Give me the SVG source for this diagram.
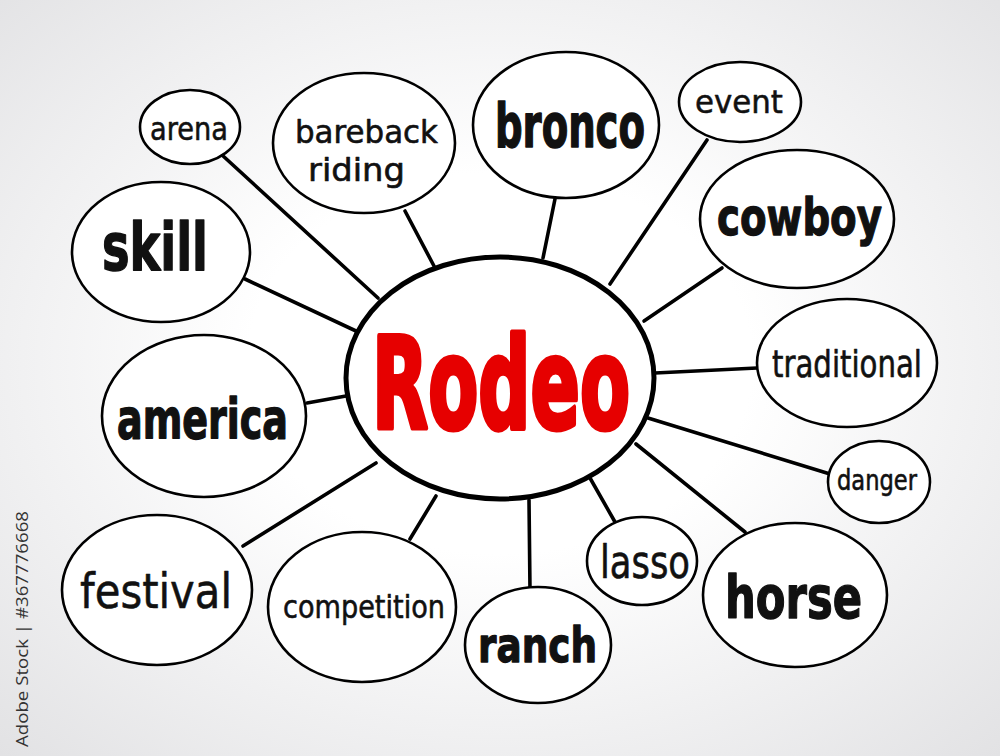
<svg xmlns="http://www.w3.org/2000/svg" width="1000" height="756" viewBox="0 0 1000 756">
<defs>
<radialGradient id="bg" cx="50%" cy="48%" r="72%">
<stop offset="0.35" stop-color="#ffffff"/>
<stop offset="1" stop-color="#e2e2e4"/>
</radialGradient>
<style>
.n{fill:#ffffff;stroke:#000;stroke-width:2.6}
.c{stroke:#000;stroke-width:3.6;stroke-linecap:round;fill:none}
.t{font-family:"DejaVu Sans",sans-serif;fill:#111;text-anchor:start}
.b{font-weight:700;stroke:#111;stroke-width:1;stroke-linejoin:round}
.s{font-weight:400;stroke:#111;stroke-width:0.5;stroke-linejoin:round}
</style>
</defs>
<rect width="1000" height="756" fill="url(#bg)"/>
<g id="connectors">
<line class="c" x1="222" y1="155" x2="378" y2="298"/>
<line class="c" x1="405" y1="211" x2="434" y2="266"/>
<line class="c" x1="245" y1="279" x2="356" y2="331"/>
<line class="c" x1="555" y1="199" x2="543" y2="258"/>
<line class="c" x1="707" y1="140" x2="610" y2="284"/>
<line class="c" x1="722" y1="268" x2="644" y2="321"/>
<line class="c" x1="655" y1="373" x2="757" y2="368"/>
<line class="c" x1="648" y1="418" x2="830" y2="474"/>
<line class="c" x1="636" y1="444" x2="745" y2="532"/>
<line class="c" x1="590" y1="478" x2="615" y2="522"/>
<line class="c" x1="529" y1="500" x2="530" y2="590"/>
<line class="c" x1="436" y1="496" x2="410" y2="539"/>
<line class="c" x1="243" y1="546" x2="376" y2="463"/>
<line class="c" x1="307" y1="403" x2="346" y2="396"/>
</g>
<g id="center">
<ellipse cx="500" cy="378" rx="154" ry="121" fill="#fff" stroke="#000" stroke-width="5"/>
<text transform="translate(372,428) scale(1,1.73)" font-family="DejaVu Sans,sans-serif" font-weight="700" font-size="73" fill="#e60000" stroke="#e60000" stroke-width="3" stroke-linejoin="round" textLength="258" lengthAdjust="spacingAndGlyphs">Rodeo</text>
</g>
<g id="arena"><ellipse class="n" cx="190" cy="127" rx="50" ry="37"/><text class="t s" transform="translate(150,140) scale(1,1.2)" font-size="27" textLength="78" lengthAdjust="spacingAndGlyphs">arena</text></g>
<g id="bareback"><ellipse class="n" cx="364" cy="143" rx="91" ry="70"/><text class="t s" transform="translate(295,143) scale(1,1.2)" font-size="26" textLength="143" lengthAdjust="spacingAndGlyphs">bareback</text><text class="t s" transform="translate(308,181) scale(1,1.2)" font-size="26" textLength="97" lengthAdjust="spacingAndGlyphs">riding</text></g>
<g id="skill"><ellipse class="n" cx="161" cy="252" rx="89" ry="70"/><text class="t b" transform="translate(102,270) scale(1,1.42)" font-size="46" textLength="106" lengthAdjust="spacingAndGlyphs">skill</text></g>
<g id="bronco"><ellipse class="n" cx="566" cy="125" rx="93" ry="73"/><text class="t b" transform="translate(495,147) scale(1,1.55)" font-size="38.5" textLength="150" lengthAdjust="spacingAndGlyphs">bronco</text></g>
<g id="event"><ellipse class="n" cx="740" cy="102" rx="61" ry="40"/><text class="t s" transform="translate(695,113) scale(1,1.05)" font-size="30.5" textLength="88" lengthAdjust="spacingAndGlyphs">event</text></g>
<g id="cowboy"><ellipse class="n" cx="797" cy="219" rx="97" ry="69"/><text class="t b" transform="translate(717,235) scale(1,1.32)" font-size="38.5" textLength="165" lengthAdjust="spacingAndGlyphs">cowboy</text></g>
<g id="traditional"><ellipse class="n" cx="847" cy="363" rx="90" ry="64"/><text class="t s" transform="translate(772,377) scale(1,1.3)" font-size="29" textLength="150" lengthAdjust="spacingAndGlyphs">traditional</text></g>
<g id="danger"><ellipse class="n" cx="879" cy="482" rx="51" ry="41"/><text class="t s" transform="translate(837,490) scale(1,1.25)" font-size="22.5" textLength="80" lengthAdjust="spacingAndGlyphs">danger</text></g>
<g id="horse"><ellipse class="n" cx="795" cy="595" rx="92" ry="72"/><text class="t b" transform="translate(725,618) scale(1,1.35)" font-size="43" textLength="137" lengthAdjust="spacingAndGlyphs">horse</text></g>
<g id="lasso"><ellipse class="n" cx="642" cy="561" rx="55" ry="44"/><text class="t s" transform="translate(600,578) scale(1,1.3)" font-size="35" textLength="90" lengthAdjust="spacingAndGlyphs">lasso</text></g>
<g id="ranch"><ellipse class="n" cx="538" cy="645" rx="73" ry="58"/><text class="t b" transform="translate(478,662) scale(1,1.28)" font-size="37" textLength="119" lengthAdjust="spacingAndGlyphs">ranch</text></g>
<g id="competition"><ellipse class="n" cx="362" cy="607" rx="94" ry="75"/><text class="t s" transform="translate(283,618) scale(1,1.2)" font-size="27" textLength="162" lengthAdjust="spacingAndGlyphs">competition</text></g>
<g id="festival"><ellipse class="n" cx="157" cy="590" rx="95" ry="75"/><text class="t s" transform="translate(80,608) scale(1,1.15)" font-size="41.5" textLength="152" lengthAdjust="spacingAndGlyphs">festival</text></g>
<g id="america"><ellipse class="n" cx="204" cy="416" rx="102" ry="81"/><text class="t b" transform="translate(117,438) scale(1,1.45)" font-size="38" textLength="171" lengthAdjust="spacingAndGlyphs">america</text></g>
<text transform="translate(28,747) rotate(-90)" font-family="Open Sans,sans-serif" font-size="16" fill="#333" textLength="236" lengthAdjust="spacingAndGlyphs">Adobe Stock | #367776668</text>
</svg>
